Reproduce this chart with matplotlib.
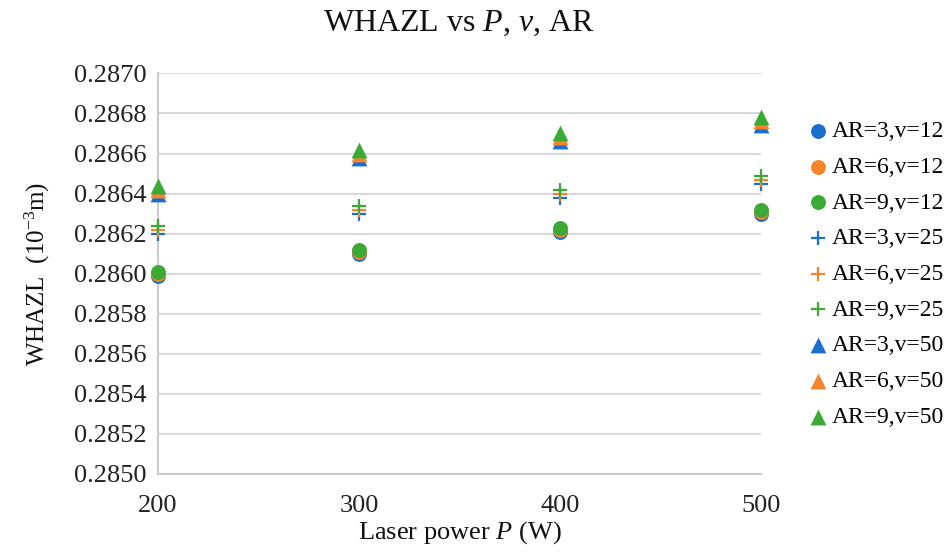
import numpy as np
import matplotlib
matplotlib.use("Agg")
from matplotlib import pyplot as plt

plt.rcParams['font.family'] = ['Liberation Serif', 'DejaVu Serif']
plt.rcParams['mathtext.fontset'] = 'custom'
plt.rcParams['mathtext.rm'] = 'Liberation Serif'
plt.rcParams['mathtext.it'] = 'Liberation Serif:italic'

# data
power = [200, 300, 400, 500]

ar3_v12 = [0.28599, 0.28610, 0.28621, 0.28630]
ar6_v12 = [0.28600, 0.28611, 0.28622, 0.28631]
ar9_v12 = [0.28601, 0.28612, 0.28623, 0.28632]
ar3_v25 = [0.28620, 0.28630, 0.28638, 0.28645]
ar6_v25 = [0.28622, 0.28632, 0.28640, 0.28647]
ar9_v25 = [0.28624, 0.28634, 0.28642, 0.28649]
ar3_v50 = [0.28640, 0.28658, 0.28666, 0.28674]
ar6_v50 = [0.28642, 0.28660, 0.28668, 0.28676]
ar9_v50 = [0.28644, 0.28662, 0.28670, 0.28678]

labels = ['AR=3,v=12', 'AR=6,v=12', 'AR=9,v=12',
          'AR=3,v=25', 'AR=6,v=25', 'AR=9,v=25',
          'AR=3,v=50', 'AR=6,v=50', 'AR=9,v=50']
series = [ar3_v12, ar6_v12, ar9_v12, ar3_v25, ar6_v25, ar9_v25,
          ar3_v50, ar6_v50, ar9_v50]

blue = '#1a6fcc'
orange = '#f7832a'
green = '#3aaa35'
colors = [blue, orange, green] * 3
markers = ['o'] * 3 + ['+'] * 3 + ['^'] * 3

fig = plt.figure(figsize=(9.5, 5.56), dpi=100)
ax = fig.add_axes([0.1663, 0.1475, 0.6347, 0.7205])

for vals, lab, c, m in zip(series, labels, colors, markers):
    if m == 'o':
        ax.scatter(power, vals, s=115, marker='o', color=c, label=lab,
                   clip_on=False, zorder=3, linewidths=0)
    elif m == '+':
        ax.scatter(power, vals, s=95, marker='+', color=c, label=lab,
                   clip_on=False, zorder=3, linewidths=1.6)
    else:
        ax.scatter(power, vals, s=130, marker='^', color=c, label=lab,
                   clip_on=False, zorder=3, linewidths=0)

ax.set_xlim(200, 500)
ax.set_ylim(0.2850, 0.2870)
ax.set_xticks([200, 300, 400, 500])
ax.set_yticks(np.arange(0.2850, 0.28701, 0.0002))
ax.yaxis.set_major_formatter(matplotlib.ticker.FormatStrFormatter('%.4f'))
ax.tick_params(length=0, labelsize=19, colors='#222222', pad=8)
ax.tick_params(axis='x', pad=15)

ax.grid(axis='y', color='#d9d9d9', linewidth=1.5, zorder=0)
ax.set_axisbelow(True)
for s in ['top', 'right']:
    ax.spines[s].set_visible(False)
for s in ['left', 'bottom']:
    ax.spines[s].set_color('#cccccc')
    ax.spines[s].set_linewidth(1.5)

ax.set_title('WHAZL vs $P$, $v$, AR', fontsize=23, pad=31, color='#111111', x=0.5)
ax.set_xlabel('Laser power $P$ (W)', fontsize=19, labelpad=2, color='#111111')
ax.set_ylabel('WHAZL  (10$^{-3}$m)', fontsize=18, labelpad=16, color='#111111')

leg = fig.legend(loc='upper left', bbox_to_anchor=(0.839, 0.80), frameon=False,
                 fontsize=17, handletextpad=0.05, handlelength=1.0,
                 labelspacing=0.6, borderaxespad=0)

fig.savefig('out.png', dpi=100)
